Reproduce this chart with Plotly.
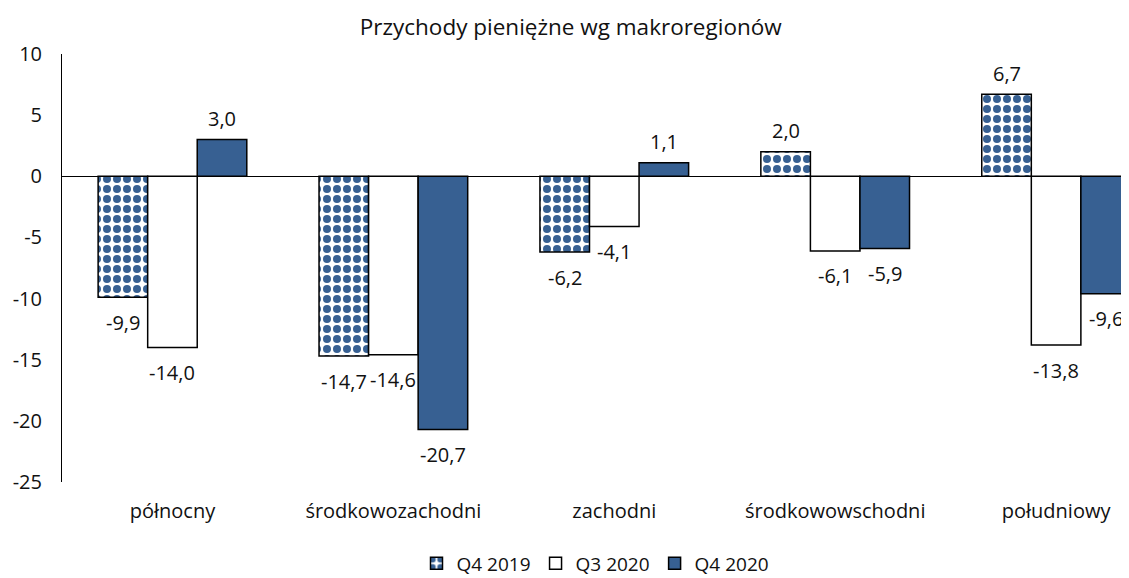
import plotly.graph_objects as go

categories = ["północny", "środkowozachodni", "zachodni", "środkowowschodni", "południowy"]
series_names = ["Q4 2019", "Q3 2020", "Q4 2020"]
q4_2019 = [-9.9, -14.7, -6.2, 2.0, 6.7]
q3_2020 = [-14.0, -14.6, -4.1, -6.1, -13.8]
q4_2020 = [3.0, -20.7, 1.1, -5.9, -9.6]
y_ticks = [10, 5, 0, -5, -10, -15, -20, -25]

BLUE = "#376092"
FONT = "Open Sans"
TXT = "#111111"
FS = 20
BARGAP = 0.327


def fmt(v):
    return f"{v:.1f}".replace(".", ",")


all_series = [q4_2019, q3_2020, q4_2020]
styles = [
    dict(color="white", pattern=dict(shape=".", fgcolor=BLUE, bgcolor="white", fgopacity=1,
                                     size=10, solidity=0.5, fillmode="overlay")),
    dict(color="white"),
    dict(color=BLUE),
]

fig = go.Figure()
for name, vals, st in zip(series_names, all_series, styles):
    fig.add_trace(go.Bar(
        x=categories, y=vals, name=name,
        marker=dict(line=dict(color="black", width=1.5), **st),
        cliponaxis=False,
    ))

# data labels, positioned from the same values and the group layout
n = len(all_series)
bw = (1 - BARGAP) / n
annotations = []
for si, vals in enumerate(all_series):
    for ci, v in enumerate(vals):
        annotations.append(dict(
            x=ci + (si - (n - 1) / 2) * bw, y=v, xref="x", yref="y",
            text=fmt(v), showarrow=False, yanchor="middle",
            yshift=21 if v >= 0 else -25,
            font=dict(family=FONT, size=FS, color=TXT),
        ))

fig.update_layout(
    width=1121, height=570,
    barmode="group", bargap=BARGAP, bargroupgap=0,
    paper_bgcolor="white", plot_bgcolor="white",
    margin=dict(l=54, r=0, t=46, b=96, autoexpand=False),
    title=dict(text="Przychody pieniężne wg makroregionów", x=0.502, xanchor="center", y=0.966, yanchor="middle",
               font=dict(family=FONT, size=22.5, color=TXT)),
    font=dict(family=FONT, size=FS, color=TXT),
    annotations=annotations,
    legend=dict(orientation="h", x=0.50, xanchor="center", y=-0.146, yanchor="top",
                font=dict(family=FONT, size=19, color=TXT), itemwidth=30, tracegroupgap=0),
    showlegend=True,
)
fig.update_xaxes(type="category", range=[-0.5, 4.33], showline=False, showgrid=False, ticks="", ticklabelstandoff=15,
                 tickfont=dict(family=FONT, size=FS, color=TXT))
fig.update_yaxes(range=[-25, 10], tickvals=y_ticks, ticktext=[str(v) for v in y_ticks],
                 showline=True, linecolor="black", linewidth=1, showgrid=False,
                 zeroline=True, zerolinecolor="black", zerolinewidth=1, ticks="", ticklabelstandoff=15,
                 tickfont=dict(family=FONT, size=FS, color=TXT))

fig.write_html("out.html")
